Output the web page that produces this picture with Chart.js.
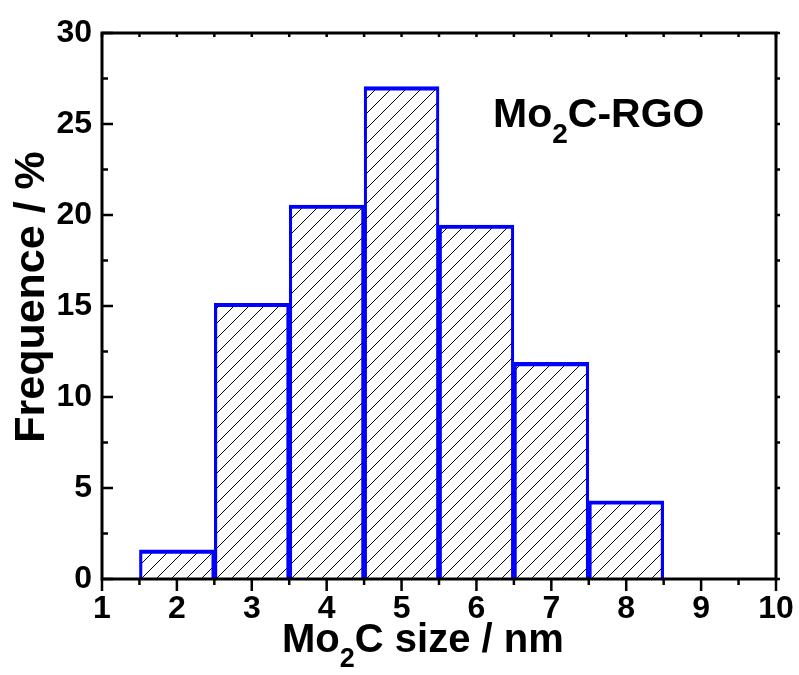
<!DOCTYPE html>
<html>
<head>
<meta charset="utf-8">
<script src="https://cdn.jsdelivr.net/npm/chart.js@4.4.1/dist/chart.umd.min.js"></script>
<style>
  html, body { margin: 0; padding: 0; background: #fff; }
  canvas { display: block; }
</style>
</head>
<body>
<canvas id="hist" width="799" height="675"></canvas>
<script>
// ── DATA ─────────────────────────────────────────────────────
const sizes     = [2, 3, 4, 5, 6, 7, 8];                       // bin centres, nm
const frequence = [1.6, 15.15, 20.55, 27.05, 19.45, 11.9, 4.3]; // %
const xTicks    = [1, 2, 3, 4, 5, 6, 7, 8, 9, 10];
const yTicks    = [0, 5, 10, 15, 20, 25, 30];

const FONT = '"Liberation Sans", Arial, sans-serif';
const BLUE = '#0000FF';

// hatch fill "///"
function hatchPattern() {
  const s = 15;
  const c = document.createElement('canvas');
  c.width = s; c.height = s;
  const g = c.getContext('2d');
  g.strokeStyle = '#000';
  g.lineWidth = 1;
  g.beginPath();
  g.moveTo(0, s); g.lineTo(s, 0);
  g.moveTo(-s / 2, s / 2); g.lineTo(s / 2, -s / 2);
  g.moveTo(s / 2, s * 1.5); g.lineTo(s * 1.5, s / 2);
  g.stroke();
  return g.createPattern(c, 'repeat');
}

// text with a subscript part: parts = [[text, isSub], ...]
function drawRich(ctx, parts, x, y, size) {
  let cx = x;
  parts.forEach(([t, sub]) => {
    const fs = sub ? Math.round(size * 0.68) : size;
    ctx.font = `bold ${fs}px ${FONT}`;
    ctx.fillText(t, cx, sub ? y + size * 0.38 : y);
    cx += ctx.measureText(t).width;
  });
}

// frame, ticks and titles (Origin style)
const framePlugin = {
  id: 'frame',
  afterDraw(chart) {
    const { ctx, chartArea: a, scales: { x, y } } = chart;
    ctx.save();
    ctx.strokeStyle = '#000';
    ctx.fillStyle = '#000';
    ctx.lineWidth = 3;
    ctx.lineCap = 'square';
    ctx.strokeRect(a.left, a.top, a.right - a.left, a.bottom - a.top);

    ctx.lineWidth = 2.5;
    ctx.lineCap = 'butt';
    ctx.beginPath();
    for (let v = x.min; v <= x.max; v += 0.5) {
      const px = x.getPixelForValue(v);
      const major = v % 1 === 0;
      ctx.moveTo(px, a.bottom); ctx.lineTo(px, a.bottom + (major ? 12 : 6));
      ctx.moveTo(px, a.top);    ctx.lineTo(px, a.top + 4);
    }
    for (let v = y.min; v <= y.max; v += 2.5) {
      const py = y.getPixelForValue(v);
      const major = v % 5 === 0;
      ctx.moveTo(a.left, py);  ctx.lineTo(a.left + (major ? 11 : 6), py);
      ctx.moveTo(a.right, py); ctx.lineTo(a.right + 4, py);
    }
    ctx.stroke();

    ctx.textBaseline = 'alphabetic';
    ctx.textAlign = 'left';
    drawRich(ctx, [['Mo'], ['2', true], ['C size / nm']], 282, 652, 40);
    drawRich(ctx, [['Mo'], ['2', true], ['C-RGO']], 493, 127, 41);

    ctx.translate(44, 297);
    ctx.rotate(-Math.PI / 2);
    ctx.textAlign = 'center';
    ctx.font = `bold 43px ${FONT}`;
    ctx.fillText('Frequence / %', 0, 0);
    ctx.restore();
  }
};

new Chart(document.getElementById('hist'), {
  type: 'bar',
  data: {
    datasets: [{
      data: sizes.map((s, i) => ({ x: s, y: frequence[i] })),
      backgroundColor: hatchPattern(),
      borderColor: BLUE,
      borderWidth: { top: 3.5, left: 2.5, right: 2.5, bottom: 0 },
      borderSkipped: 'start',
      barPercentage: 1,
      categoryPercentage: 1,
    }]
  },
  options: {
    responsive: false,
    animation: false,
    devicePixelRatio: 1,
    layout: { padding: { top: 33, right: 23, left: 0, bottom: 0 } },
    plugins: { legend: { display: false }, tooltip: { enabled: false } },
    scales: {
      x: {
        type: 'linear',
        min: 1, max: 10,
        offset: false,
        afterBuildTicks: s => { s.ticks = xTicks.map(v => ({ value: v })); },
        afterFit: s => { s.height = 96; s.paddingLeft = 0; s.paddingRight = 0; },
        grid: { display: false, drawTicks: false },
        border: { display: false },
        ticks: {
          autoSkip: false, maxRotation: 0, padding: 11,
          color: '#000', font: { family: FONT, size: 32, weight: 'bold' }
        }
      },
      y: {
        min: 0, max: 30,
        afterBuildTicks: s => { s.ticks = yTicks.map(v => ({ value: v })); },
        afterFit: s => { s.width = 102; s.paddingTop = 0; s.paddingBottom = 0; },
        grid: { display: false, drawTicks: false },
        border: { display: false },
        ticks: {
          padding: 10,
          color: '#000', font: { family: FONT, size: 32, weight: 'bold' }
        }
      }
    }
  },
  plugins: [framePlugin]
});
</script>
</body>
</html>
